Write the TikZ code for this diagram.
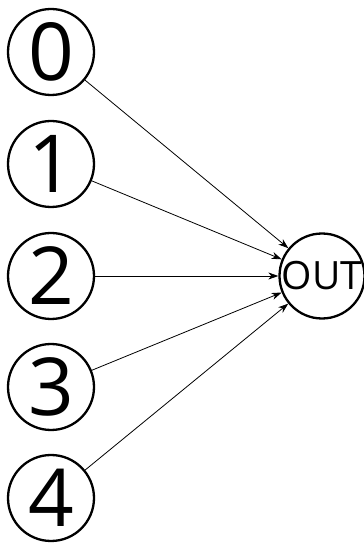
\documentclass[tikz,border=0pt]{standalone}
\usepackage{fontspec}
\setmainfont{Open Sans}
\usetikzlibrary{arrows.meta}
\begin{document}
\begin{tikzpicture}[x=1pt,y=1pt,
  inn/.style={circle,draw,line width=2.3pt,minimum size=86pt,inner sep=0pt,font=\fontsize{80}{80}\selectfont},
  outn/.style={circle,draw,line width=2.3pt,minimum size=84pt,inner sep=0pt,font=\fontsize{39}{39}\selectfont},
  conn/.style={line width=0.8pt,-{Stealth[length=10pt,width=7pt,inset=3pt]}}]
\useasboundingbox (0,0) rectangle (364,544);
\node[inn] (n0) at (51,492) {0};
\node[inn] (n1) at (51,380) {1};
\node[inn] (n2) at (51,268) {2};
\node[inn] (n3) at (51,157) {3};
\node[inn] (n4) at (51,46) {4};
\node[outn] (out) at (322,268) {OUT};
\foreach \i in {0,...,4} \draw[conn] (n\i) -- (out);
\end{tikzpicture}
\end{document}
